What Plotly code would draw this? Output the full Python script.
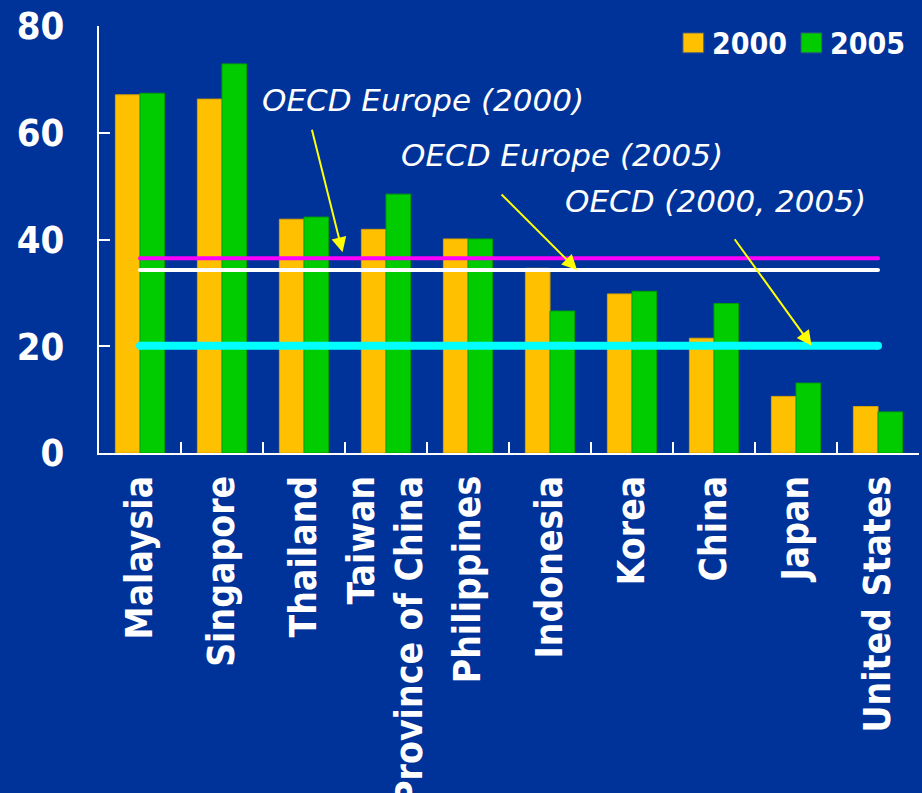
import plotly.graph_objects as go

# Share of exports (%) by economy, 2000 vs 2005
countries = [
    "Malaysia", "Singapore", "Thailand", "Taiwan<br>Province of China",
    "Philippines", "Indonesia", "Korea", "China", "Japan", "United States",
]
values_2000 = [67.1, 66.3, 43.8, 41.9, 40.1, 34.6, 29.8, 21.5, 10.6, 8.7]
values_2005 = [67.4, 72.9, 44.2, 48.5, 40.1, 26.6, 30.3, 28.0, 13.1, 7.7]

# Benchmark averages
oecd_europe_2000 = 36.5
oecd_europe_2005 = 34.3
oecd_2000_2005 = 20.1

y_ticks = [0, 20, 40, 60, 80]

BG = "#003399"
ORANGE = "#FFC000"
GREEN = "#00CC00"
LABEL_FONT = "DejaVu Sans Condensed, DejaVu Sans, sans-serif"
NOTE_FONT = "DejaVu Sans, sans-serif"

fig = go.Figure()

fig.add_trace(go.Bar(
    x=countries, y=values_2000, name="2000",
    marker=dict(color=ORANGE, line=dict(color="#D9A300", width=1)),
    showlegend=False,
))
fig.add_trace(go.Bar(
    x=countries, y=values_2005, name="2005",
    marker=dict(color=GREEN, line=dict(color="#00A000", width=1)),
    showlegend=False,
))

# Horizontal benchmark lines across the economies
for val, col, w in [
    (oecd_europe_2000, "#FF00FF", 4),
    (oecd_europe_2005, "#FFFFFF", 4),
    (oecd_2000_2005, "#00FFFF", 8),
]:
    fig.add_trace(go.Scatter(
        x=[countries[0], countries[-1]], y=[val, val],
        mode="lines+markers",
        line=dict(color=col, width=w),
        marker=dict(color=col, size=w, line=dict(width=0)),
        showlegend=False, hoverinfo="skip",
    ))

note_font = dict(family=NOTE_FONT, size=31, color="white", style="italic")
notes = [
    ("OECD Europe (2000)", 3.45, 66.1),
    ("OECD Europe (2005)", 5.15, 55.8),
    ("OECD (2000, 2005)", 7.02, 47.2),
]
annotations = [
    dict(text=t, x=x, y=y, xref="x", yref="y", showarrow=False,
         font=note_font, xanchor="center", yanchor="middle")
    for t, x, y in notes
]

arrows = [
    (2.47, oecd_europe_2000 + 1.1, -31, -124),
    (5.33, oecd_europe_2005, -77, -77),
    (8.19, oecd_2000_2005, -78, -108),
]
for x, y, ax, ay in arrows:
    annotations.append(dict(
        text="", x=x, y=y, xref="x", yref="y", ax=ax, ay=ay,
        showarrow=True, arrowhead=2, arrowsize=1.5, arrowwidth=2,
        arrowcolor="#FFFF00",
    ))

# Legend drawn as swatches + labels in the top-right corner
legend_font = dict(family=LABEL_FONT, size=30, color="white", weight="bold")
shapes = []
for x0, col, label in [(0.712, ORANGE, "2000"), (0.856, GREEN, "2005")]:
    shapes.append(dict(
        type="rect", xref="paper", yref="paper",
        x0=x0, x1=x0 + 0.0256, y0=0.937, y1=0.984,
        fillcolor=col, line=dict(color="#2a4a8a", width=1), layer="above",
    ))
    annotations.append(dict(
        text=label, xref="paper", yref="paper", x=x0 + 0.033, y=0.960,
        xanchor="left", yanchor="middle", showarrow=False, font=legend_font,
    ))

fig.update_layout(
    width=922, height=793,
    paper_bgcolor=BG, plot_bgcolor=BG,
    margin=dict(l=99, r=3, t=26, b=340),
    barmode="group", bargap=0.40, bargroupgap=0,
    annotations=annotations, shapes=shapes,
    showlegend=False,
)
fig.update_xaxes(
    type="category", tickson="boundaries", automargin=False,
    range=[-0.5, len(countries) - 0.5],
    ticks="inside", ticklen=11, tickwidth=2, tickcolor="white",
    showline=True, linecolor="white", linewidth=2,
    showgrid=False, zeroline=False, tickangle=-90,
    tickfont=dict(family=LABEL_FONT, size=37, color="white", weight="bold"),
    ticklabelstandoff=6,
)
fig.update_yaxes(
    range=[0, 80], tickvals=y_ticks, automargin=False,
    ticks="inside", ticklen=11, tickwidth=2, tickcolor="white",
    showline=True, linecolor="white", linewidth=2,
    showgrid=False, zeroline=False,
    tickfont=dict(family=LABEL_FONT, size=38, color="white", weight="bold"),
    ticklabelstandoff=25,
)

fig.write_html("out.html")
